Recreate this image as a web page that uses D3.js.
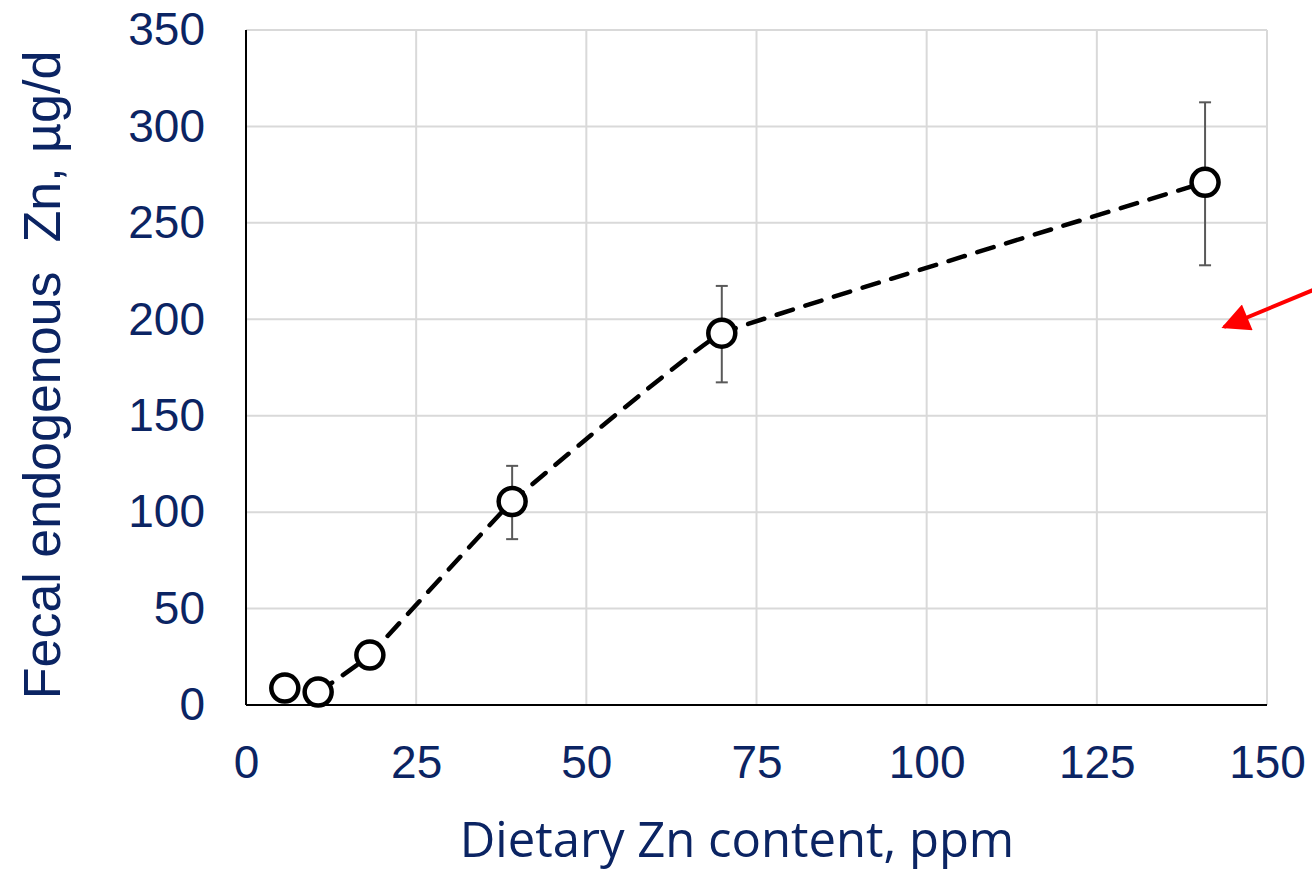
<!DOCTYPE html>
<html><head><meta charset="utf-8">
<script src="https://cdn.jsdelivr.net/npm/d3@7"></script>
<style>body{margin:0;background:#fff}svg{display:block}</style>
</head><body>
<svg id="c" width="1312" height="871"></svg>
<script>
const dietZn = [5.7, 10.6, 18.2, 39.1, 69.9, 140.9];
const fecalZn = [8.8, 6.7, 25.9, 105.5, 192.8, 271.0];
const errUp = [2, 2, 3, 18.5, 24.5, 41.5];
const errDown = [2, 2, 3, 19.5, 25.5, 43];
const xTicks = [0, 25, 50, 75, 100, 125, 150];
const yTicks = [0, 50, 100, 150, 200, 250, 300, 350];
const xTitle = "Dietary Zn content, ppm";
const yTitle = "Fecal endogenous\u00a0 Zn, µg/d";

const navy = "#0b2463";
const svg = d3.select("#c");
const L = 246, R = 1267, T = 30, B = 705;
const x = d3.scaleLinear().domain([0, 150]).range([L, R]);
const y = d3.scaleLinear().domain([0, 350]).range([B, T]);

// grid
svg.append("g").selectAll("line").data(xTicks).join("line")
  .attr("x1", d => x(d)).attr("x2", d => x(d)).attr("y1", T).attr("y2", B)
  .attr("stroke", "#d9d9d9").attr("stroke-width", 2);
svg.append("g").selectAll("line").data(yTicks).join("line")
  .attr("x1", L).attr("x2", R).attr("y1", d => y(d)).attr("y2", d => y(d))
  .attr("stroke", "#d9d9d9").attr("stroke-width", 2);

// axes
const xAxis = svg.append("g").attr("transform", `translate(0,${B})`)
  .call(d3.axisBottom(x).tickValues(xTicks).tickSize(0).tickPadding(50));
const yAxis = svg.append("g").attr("transform", `translate(${L},0)`)
  .call(d3.axisLeft(y).tickValues(yTicks).tickSize(0).tickPadding(41));
[xAxis, yAxis].forEach(a => {
  a.select(".domain").attr("stroke", "#000").attr("stroke-width", 2);
  a.selectAll("text").attr("fill", navy).attr("font-family", "Liberation Sans, Arial, sans-serif").attr("font-size", 46);
});
xAxis.selectAll("text").attr("dy", "0").attr("y", 73);
yAxis.select(".domain").attr("d", `M0,${T}V${B}`);
xAxis.select(".domain").attr("d", `M${L},0H${R}`);

// line
const pts = dietZn.map((d, i) => [d, fecalZn[i]]);
svg.append("path").datum(pts.slice(1))
  .attr("d", d3.line().x(d => x(d[0])).y(d => y(d[1])).curve(d3.curveCardinal.tension(0.8)))
  .attr("fill", "none").attr("stroke", "#000").attr("stroke-width", 4.5)
  .attr("stroke-dasharray", "17,13").attr("stroke-linecap", "round");

// error bars
const eb = svg.append("g").attr("stroke", "#595959").attr("stroke-width", 2);
dietZn.forEach((d, i) => {
  const cx = x(d), y1 = y(fecalZn[i] + errUp[i]), y2 = y(fecalZn[i] - errDown[i]);
  eb.append("line").attr("x1", cx).attr("x2", cx).attr("y1", y1).attr("y2", y2);
  eb.append("line").attr("x1", cx - 6).attr("x2", cx + 6).attr("y1", y1).attr("y2", y1);
  eb.append("line").attr("x1", cx - 6).attr("x2", cx + 6).attr("y1", y2).attr("y2", y2);
});

// markers
svg.append("g").selectAll("circle").data(pts).join("circle")
  .attr("cx", d => x(d[0])).attr("cy", d => y(d[1])).attr("r", 13.5)
  .attr("fill", "#fff").attr("stroke", "#000").attr("stroke-width", 4.5);

// titles
svg.append("text").attr("x", 737).attr("y", 857).attr("text-anchor", "middle")
  .attr("fill", navy).attr("font-family", "'Open Sans', Lato, sans-serif").attr("font-size", 49)
  .text(xTitle);
svg.append("text").attr("transform", "translate(60,375) rotate(-90)").attr("text-anchor", "middle")
  .attr("fill", navy).attr("font-family", "Liberation Sans, Arial, sans-serif").attr("font-size", 52)
  .text(yTitle);

// red arrow annotation
const defs = svg.append("defs");
defs.append("marker").attr("id", "ah").attr("viewBox", "0 0 10 10").attr("refX", 9).attr("refY", 5)
  .attr("markerWidth", 8).attr("markerHeight", 7).attr("orient", "auto").attr("markerUnits", "strokeWidth")
  .append("path").attr("d", "M0,0L10,5L0,10Z").attr("fill", "#ff0000");
svg.append("line").attr("x1", 1318).attr("y1", 288).attr("x2", 1224).attr("y2", 327)
  .attr("stroke", "#ff0000").attr("stroke-width", 4).attr("marker-end", "url(#ah)");
</script>
</body></html>
